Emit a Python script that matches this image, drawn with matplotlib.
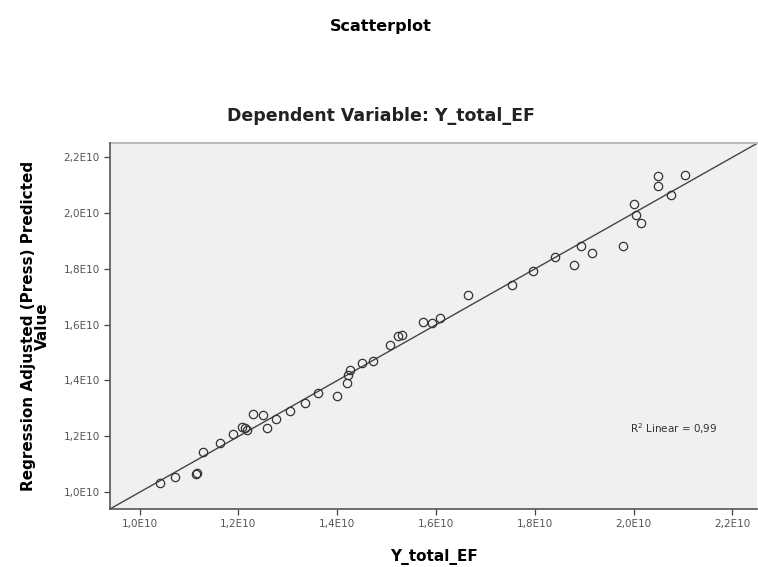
import matplotlib
matplotlib.use("Agg")
import matplotlib.pyplot as plt
import numpy as np
from matplotlib.ticker import FuncFormatter

plt.rcParams['font.family'] = ['DejaVu Sans']

# Observed Y_total_EF (x) vs adjusted predicted value (y), units of 1E10
y_total_ef = [
    1.041, 1.072, 1.114, 1.116, 1.129, 1.163, 1.190, 1.207, 1.213, 1.217,
    1.230, 1.250, 1.257, 1.277, 1.304, 1.335, 1.362, 1.399, 1.419, 1.422,
    1.426, 1.450, 1.473, 1.507, 1.524, 1.532, 1.574, 1.591, 1.608, 1.664,
    1.753, 1.796, 1.842, 1.880, 1.893, 1.916, 1.978, 2.001, 2.006, 2.016,
    2.050, 2.050, 2.075, 2.104,
]
adj_predicted = [
    1.034, 1.056, 1.065, 1.070, 1.145, 1.178, 1.209, 1.235, 1.229, 1.223,
    1.281, 1.277, 1.229, 1.262, 1.289, 1.319, 1.355, 1.343, 1.390, 1.420,
    1.438, 1.462, 1.468, 1.528, 1.560, 1.564, 1.611, 1.606, 1.624, 1.707,
    1.740, 1.791, 1.842, 1.815, 1.883, 1.856, 1.880, 2.032, 1.994, 1.964,
    2.131, 2.095, 2.065, 2.137,
]
x_ticks = [1.0, 1.2, 1.4, 1.6, 1.8, 2.0, 2.2]
y_ticks = [1.0, 1.2, 1.4, 1.6, 1.8, 2.0, 2.2]
r2_text = "R$^2$ Linear = 0,99"

x = np.array(y_total_ef) * 1e10
y = np.array(adj_predicted) * 1e10

fig = plt.figure(figsize=(7.58, 5.67), dpi=100)
ax = fig.add_axes([110 / 758, 58 / 567, 647 / 758, 366 / 567])
ax.set_facecolor('#f0f0f0')

xlo, xhi = 0.94e10, 2.25e10
ax.set_xlim(xlo, xhi)
ax.set_ylim(0.94e10, 2.25e10)

# Linear fit line across the whole axis
slope, intercept = np.polyfit(x, y, 1)
xs = np.array([xlo, xhi])
ax.plot(xs, slope * xs + intercept, color='#444444', lw=1.0, zorder=2)

ax.plot(x, y, 'o', markersize=6, markerfacecolor='none',
        markeredgecolor='#333333', markeredgewidth=0.9, zorder=3)

ax.text(0.872, 0.22, r2_text, transform=ax.transAxes, fontsize=7.5,
        color='#333333', ha='center', va='center')

fmt = FuncFormatter(lambda v, p: ('%.1fE10' % (v / 1e10)).replace('.', ','))
ax.set_xticks(np.array(x_ticks) * 1e10)
ax.set_yticks(np.array(y_ticks) * 1e10)
ax.xaxis.set_major_formatter(fmt)
ax.yaxis.set_major_formatter(fmt)
ax.tick_params(axis='both', labelsize=7.5, colors='#444444', length=4,
               width=0.9, labelcolor='#555555')

for side in ['top', 'right']:
    ax.spines[side].set_visible(False)
for side in ['left', 'bottom']:
    ax.spines[side].set_color('#555555')
    ax.spines[side].set_linewidth(1.2)
ax.axhline(2.25e10, color='#bbbbbb', lw=1.5, clip_on=False)

ax.set_xlabel('Y_total_EF', fontsize=11, fontweight='bold', labelpad=14)
ax.set_ylabel('Regression Adjusted (Press) Predicted\nValue', fontsize=11,
              fontweight='bold', labelpad=10, linespacing=0.9)

fig.text(381 / 758, 1 - 26 / 567, 'Scatterplot', fontsize=11.5,
         fontweight='bold', ha='center', va='center')
fig.text(381 / 758, 1 - 116 / 567, 'Dependent Variable: Y_total_EF',
         fontsize=12.5, fontweight='bold', ha='center', va='center',
         color='#222222')

fig.savefig('out.png', dpi=100)
